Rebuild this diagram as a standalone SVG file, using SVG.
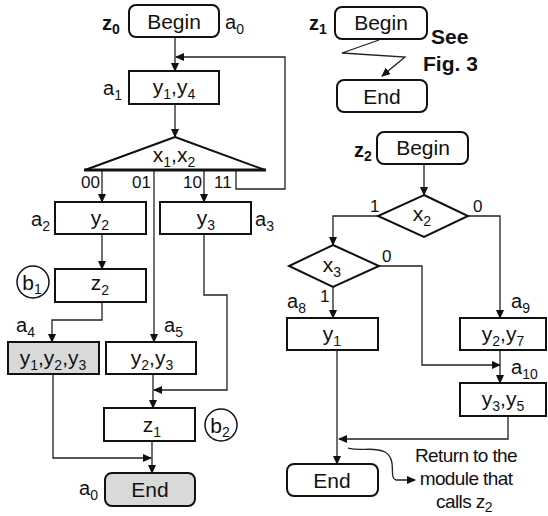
<svg xmlns="http://www.w3.org/2000/svg" width="548" height="516" viewBox="0 0 548 516">
<defs>
<marker id="ah" markerWidth="9" markerHeight="8" refX="8" refY="4" orient="auto" markerUnits="userSpaceOnUse">
<path d="M0,0 L9,4 L0,8 Z" fill="#111"/>
</marker>
<style>
text{font-family:"Liberation Sans",Arial,sans-serif;fill:#111}
.n{font-size:21px;text-anchor:middle}
.l{font-size:20px}
.d{font-size:17px}
.b{font-weight:bold;font-size:20px}
.f{font-weight:bold;font-size:21px}
.s{font-size:14px}
.box{fill:#fff;stroke:#111;stroke-width:2}
.g{fill:#d9d9d9}
.c{fill:none;stroke:#222;stroke-width:1.3;marker-end:url(#ah)}
.r{font-size:19px;text-anchor:middle;letter-spacing:-0.6px}
</style>
</defs>
<g id="connectors">
<path class="c" d="M175,37 V71"/>
<path class="c" d="M236,170 V189 H285 V57 H176"/>
<path class="c" d="M175,104 V137"/>
<path class="c" d="M102,170 V202"/>
<path class="c" d="M154,170 V342"/>
<path class="c" d="M204,170 V202"/>
<path class="c" d="M102,234 V269"/>
<path class="c" d="M102,302 V320 H52 V342"/>
<path class="c" d="M204,234 V295 H227 V390 H154"/>
<path class="c" d="M153,374 V408"/>
<path class="c" d="M53,374 V458 H151"/>
<path class="c" d="M152,441 V473"/>
<path class="c" d="M379,40 L342,53 L405,57 L382,76"/>
<path class="c" d="M424,164 V195"/>
<path class="c" d="M378,216 H333 V245"/>
<path class="c" d="M468,216 H500 V318"/>
<path class="c" d="M379,266 H422 V365 H500"/>
<path class="c" d="M333,287 V318"/>
<path class="c" d="M500,350 V383"/>
<path class="c" d="M508,416 V439 H339"/>
<path class="c" d="M337,350 V464"/>
<path class="c" d="M348,448 C362,452 372,446 385,452 C398,460 388,478 396,480 H415"/>
</g>
<g id="z0-begin">
<rect class="box" x="129" y="5" width="90" height="32" rx="7"/>
<text class="n" x="174" y="29">Begin</text>
<text class="b" x="102" y="30">z<tspan class="s" dy="4">0</tspan></text>
<text class="l" x="225" y="29">a<tspan class="s" dy="5">0</tspan></text>
</g>
<g id="a1">
<rect class="box" x="129" y="71" width="90" height="33"/>
<text class="n" x="174" y="94">y<tspan class="s" dy="5">1</tspan><tspan dy="-5">,y</tspan><tspan class="s" dy="5">4</tspan></text>
<text class="l" x="103" y="95">a<tspan class="s" dy="5">1</tspan></text>
</g>
<g id="x1x2">
<polygon points="175,137 85,170 265,170" fill="#fff" stroke="#111" stroke-width="2" stroke-linejoin="round"/>
<line x1="84" y1="170" x2="266" y2="170" stroke="#111" stroke-width="3"/>
<text class="n" x="174" y="162">x<tspan class="s" dy="5">1</tspan><tspan dy="-5">,x</tspan><tspan class="s" dy="5">2</tspan></text>
<text class="d" x="81" y="188">00</text>
<text class="d" x="132" y="188">01</text>
<text class="d" x="183" y="188">10</text>
<text class="d" x="214" y="188">11</text>
</g>
<g id="a2">
<rect class="box" x="55" y="202" width="91" height="32"/>
<text class="n" x="100" y="225">y<tspan class="s" dy="5">2</tspan></text>
<text class="l" x="31" y="226">a<tspan class="s" dy="5">2</tspan></text>
</g>
<g id="a3">
<rect class="box" x="160" y="202" width="91" height="32"/>
<text class="n" x="206" y="225">y<tspan class="s" dy="5">3</tspan></text>
<text class="l" x="255" y="226">a<tspan class="s" dy="5">3</tspan></text>
</g>
<g id="b1">
<rect class="box" x="55" y="269" width="91" height="33"/>
<text class="n" x="100" y="290">z<tspan class="s" dy="5">2</tspan></text>
<circle cx="33" cy="282" r="16" fill="none" stroke="#111" stroke-width="1.5"/>
<text class="n" x="32" y="290">b<tspan class="s" dy="4">1</tspan></text>
</g>
<g id="a4">
<rect class="box g" x="8" y="342" width="91" height="32"/>
<text class="n" x="53" y="365">y<tspan class="s" dy="5">1</tspan><tspan dy="-5">,y</tspan><tspan class="s" dy="5">2</tspan><tspan dy="-5">,y</tspan><tspan class="s" dy="5">3</tspan></text>
<text class="l" x="16" y="332">a<tspan class="s" dy="5">4</tspan></text>
</g>
<g id="a5">
<rect class="box" x="106" y="342" width="90" height="32"/>
<text class="n" x="152" y="365">y<tspan class="s" dy="5">2</tspan><tspan dy="-5">,y</tspan><tspan class="s" dy="5">3</tspan></text>
<text class="l" x="164" y="332">a<tspan class="s" dy="5">5</tspan></text>
</g>
<g id="b2">
<rect class="box" x="104" y="408" width="91" height="33"/>
<text class="n" x="152" y="432">z<tspan class="s" dy="5">1</tspan></text>
<circle cx="221" cy="425" r="16" fill="none" stroke="#111" stroke-width="1.5"/>
<text class="n" x="220" y="433">b<tspan class="s" dy="4">2</tspan></text>
</g>
<g id="end-left">
<rect class="box g" x="105" y="473" width="90" height="33" rx="7"/>
<text class="n" x="150" y="497">End</text>
<text class="l" x="79" y="495">a<tspan class="s" dy="5">0</tspan></text>
</g>
<g id="z1-begin">
<rect class="box" x="335" y="7" width="92" height="32" rx="7"/>
<text class="n" x="381" y="30">Begin</text>
<text class="b" x="309" y="30">z<tspan class="s" dy="4">1</tspan></text>
<text class="f" x="431" y="44">See</text>
<text class="f" x="423" y="71">Fig. 3</text>
</g>
<g id="z1-end">
<rect class="box" x="337" y="80" width="90" height="32" rx="7"/>
<text class="n" x="382" y="104">End</text>
</g>
<g id="z2-begin">
<rect class="box" x="377" y="132" width="91" height="32" rx="7"/>
<text class="n" x="423" y="155">Begin</text>
<text class="b" x="354" y="157">z<tspan class="s" dy="4">2</tspan></text>
</g>
<g id="x2">
<polygon points="424,195 468,216 424,237 378,216" class="box"/>
<text class="n" x="422" y="221">x<tspan class="s" dy="5">2</tspan></text>
<text class="d" x="370" y="212">1</text>
<text class="d" x="473" y="212">0</text>
</g>
<g id="x3">
<polygon points="333,245 379,266 333,287 289,266" class="box"/>
<text class="n" x="332" y="272">x<tspan class="s" dy="5">3</tspan></text>
<text class="d" x="382" y="262">0</text>
<text class="d" x="320" y="302">1</text>
</g>
<g id="a8">
<rect class="box" x="287" y="318" width="91" height="32"/>
<text class="n" x="332" y="341">y<tspan class="s" dy="5">1</tspan></text>
<text class="l" x="287" y="308">a<tspan class="s" dy="5">8</tspan></text>
</g>
<g id="a9">
<rect class="box" x="460" y="318" width="86" height="32"/>
<text class="n" x="503" y="341">y<tspan class="s" dy="5">2</tspan><tspan dy="-5">,y</tspan><tspan class="s" dy="5">7</tspan></text>
<text class="l" x="511" y="308">a<tspan class="s" dy="5">9</tspan></text>
</g>
<g id="a10">
<rect class="box" x="460" y="383" width="86" height="33"/>
<text class="n" x="503" y="406">y<tspan class="s" dy="5">3</tspan><tspan dy="-5">,y</tspan><tspan class="s" dy="5">5</tspan></text>
<text class="l" x="511" y="374">a<tspan class="s" dy="5">10</tspan></text>
</g>
<g id="z2-end">
<rect class="box" x="287" y="464" width="91" height="32" rx="7"/>
<text class="n" x="332" y="488">End</text>
</g>
<g id="return-note">
<text class="r" x="466" y="462">Return to the</text>
<text class="r" x="466" y="485">module that</text>
<text class="r" x="464" y="508">calls z<tspan class="s" dy="4">2</tspan></text>
</g>
</svg>
